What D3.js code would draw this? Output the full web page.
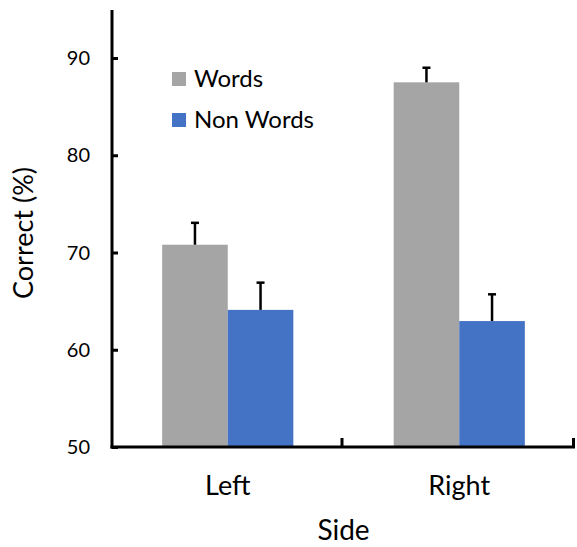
<!DOCTYPE html>
<html>
<head>
<meta charset="utf-8" />
<title>Correct by side</title>
<style>
html, body {
    margin: 0;
    padding: 0;
    background: #fff;
}
svg text {
    font-family: Lato, "Open Sans", sans-serif;
    fill: #000;
}
</style>
</head>
<body>
<div id="chart"></div>
<script src="https://cdnjs.cloudflare.com/ajax/libs/d3/7.8.5/d3.min.js"></script>
<script>
var sides = ["Left", "Right"]
var seriesNames = ["Words", "Non Words"]
var seriesColors = ["#a5a5a5", "#4472c4"]
var words = [70.8, 87.5]
var nonWords = [64.1, 62.95]
var wordsErr = [2.25, 1.5]
var nonWordsErr = [2.8, 2.75]
var yTicks = [50, 60, 70, 80, 90]

!(function(){
    "use strict"

    var width = 577, height = 547
    var margin = {top: 10, right: 2, bottom: 100, left: 112}

    var svg = d3.select("#chart").append("svg")
        .attr("width", width)
        .attr("height", height)

    var x0 = d3.scaleBand()
        .domain(sides)
        .range([margin.left, width - margin.right])

    var x1 = d3.scaleBand()
        .domain(seriesNames)
        .range([0, x0.bandwidth()])
        .paddingInner(0)
        .paddingOuter(0.765)

    var y = d3.scaleLinear()
        .domain([50, 90])
        .range([447, 58])

    var data = []
    sides.forEach(function(s, i) {
        data.push({side: s, series: seriesNames[0], value: words[i], err: wordsErr[i], color: seriesColors[0]})
        data.push({side: s, series: seriesNames[1], value: nonWords[i], err: nonWordsErr[i], color: seriesColors[1]})
    })

    // bars
    svg.append("g").selectAll("rect")
        .data(data)
        .enter().append("rect")
        .attr("x", function(d) { return x0(d.side) + x1(d.series) })
        .attr("width", x1.bandwidth())
        .attr("y", function(d) { return y(d.value) })
        .attr("height", function(d) { return y(50) - y(d.value) })
        .attr("fill", function(d) { return d.color })

    // error bars (upper only)
    var eb = svg.append("g").selectAll("g")
        .data(data)
        .enter().append("g")
        .attr("stroke", "#000")
        .attr("stroke-width", 2.5)
    eb.append("line")
        .attr("x1", function(d) { return x0(d.side) + x1(d.series) + x1.bandwidth() / 2 })
        .attr("x2", function(d) { return x0(d.side) + x1(d.series) + x1.bandwidth() / 2 })
        .attr("y1", function(d) { return y(d.value) })
        .attr("y2", function(d) { return y(d.value + d.err) })
    eb.append("line")
        .attr("x1", function(d) { return x0(d.side) + x1(d.series) + x1.bandwidth() / 2 - 4 })
        .attr("x2", function(d) { return x0(d.side) + x1(d.series) + x1.bandwidth() / 2 + 4 })
        .attr("y1", function(d) { return y(d.value + d.err) })
        .attr("y2", function(d) { return y(d.value + d.err) })

    // y axis
    var yAxis = svg.append("g")
        .attr("transform", "translate(" + margin.left + ",0)")
        .call(d3.axisRight(y).tickValues(yTicks).tickSize(6).tickFormat(""))
    yAxis.select(".domain").remove()
    yAxis.selectAll(".tick line").attr("stroke", "#000").attr("stroke-width", 3)
    svg.append("line")
        .attr("x1", margin.left).attr("x2", margin.left)
        .attr("y1", margin.top).attr("y2", y(50) + 1.5)
        .attr("stroke", "#000").attr("stroke-width", 3)

    svg.append("g").selectAll("text")
        .data(yTicks)
        .enter().append("text")
        .attr("x", 90)
        .attr("y", function(d) { return y(d) })
        .attr("dy", "0.35em")
        .attr("text-anchor", "end")
        .style("font-size", "20px")
        .text(function(d) { return d })

    // x axis with ticks between categories
    var xEdges = [x0.range()[0]].concat(sides.map(function(s) { return x0(s) + x0.bandwidth() }))
    svg.append("line")
        .attr("x1", margin.left - 1.5).attr("x2", width - margin.right)
        .attr("y1", y(50)).attr("y2", y(50))
        .attr("stroke", "#000").attr("stroke-width", 3)
    svg.append("g").selectAll("line")
        .data(xEdges.slice(1))
        .enter().append("line")
        .attr("x1", function(d) { return d - 1.5 }).attr("x2", function(d) { return d - 1.5 })
        .attr("y1", y(50)).attr("y2", y(50) - 9)
        .attr("stroke", "#000").attr("stroke-width", 3)

    svg.append("g").selectAll("text")
        .data(sides)
        .enter().append("text")
        .attr("x", function(d) { return x0(d) + x0.bandwidth() / 2 })
        .attr("y", 495)
        .attr("text-anchor", "middle")
        .style("font-size", "27px")
        .text(function(d) { return d })

    // axis titles
    svg.append("text")
        .attr("x", (x0.range()[0] + x0.range()[1]) / 2)
        .attr("y", 540)
        .attr("text-anchor", "middle")
        .style("font-size", "28px")
        .text("Side")

    svg.append("text")
        .attr("transform", "translate(33," + 233 + ") rotate(-90)")
        .attr("text-anchor", "middle")
        .style("font-size", "27px")
        .text("Correct (%)")

    // legend
    var legend = svg.append("g").selectAll("g")
        .data(seriesNames)
        .enter().append("g")
        .attr("transform", function(d, i) { return "translate(172," + (72 + i * 41) + ")" })
    legend.append("rect")
        .attr("width", 14).attr("height", 14)
        .attr("fill", function(d, i) { return seriesColors[i] })
    legend.append("text")
        .attr("x", 22).attr("y", 7)
        .attr("dy", "0.35em")
        .style("font-size", "24px")
        .text(function(d) { return d })
}());
</script>
</body>
</html>
